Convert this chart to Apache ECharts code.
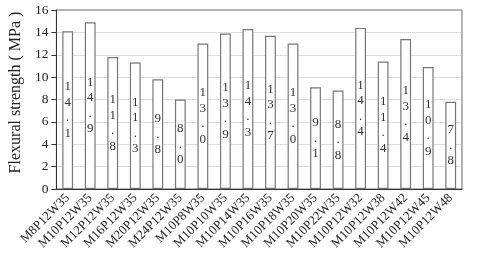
<!DOCTYPE html>
<html><head><meta charset="utf-8">
<script src="https://cdn.jsdelivr.net/npm/echarts@6/dist/echarts.min.js"></script>
<style>html,body{margin:0;padding:0;background:#fff}#c{width:480px;height:259px}</style>
</head><body><div id="c"></div>
<script>
const categories = ["M8P12W35","M10P12W35","M12P12W35","M16P12W35","M20P12W35","M24P12W35","M10P8W35","M10P10W35","M10P14W35","M10P16W35","M10P18W35","M10P20W35","M10P22W35","M10P12W32","M10P12W38","M10P12W42","M10P12W45","M10P12W48"];
const strength = [14.1,14.9,11.8,11.3,9.8,8.0,13.0,13.9,14.3,13.7,13.0,9.1,8.8,14.4,11.4,13.4,10.9,7.8];
const yTicks = [0,2,4,6,8,10,12,14,16];
const serif = "'Liberation Serif','Times New Roman',serif";
const chart = echarts.init(document.getElementById('c'));
chart.setOption({
  animation:false,
  grid:{left:52,right:18,top:10,bottom:70,show:true,borderColor:'#666',borderWidth:1},
  xAxis:{type:'category',data:categories,
    axisLine:{lineStyle:{color:'#333'}},
    axisTick:{alignWithLabel:true,length:5,lineStyle:{color:'#333'}},
    axisLabel:{rotate:45,interval:0,fontFamily:serif,fontSize:13,color:'#222',margin:7}},
  yAxis:{type:'value',min:0,max:16,interval:2,
    name:'Flexural strength ( MPa )',nameLocation:'middle',nameGap:26,
    nameTextStyle:{fontFamily:serif,fontSize:16,color:'#222',padding:[0,0,0,14]},
    axisLine:{show:true,lineStyle:{color:'#333'}},
    axisTick:{show:true,length:5,lineStyle:{color:'#333'}},
    axisLabel:{fontFamily:serif,fontSize:13.5,color:'#222',margin:8,
      formatter:v=>yTicks.includes(v)?String(v):''},
    splitLine:{lineStyle:{color:'#bbb',type:'dotted'}}},
  series:[{type:'bar',data:strength,barWidth:'48%',
    itemStyle:{color:'#fff',borderColor:'#777',borderWidth:1.2},
    label:{show:true,position:'inside',fontFamily:serif,fontSize:13,color:'#333',lineHeight:15.5,
      formatter:p=>p.value.toFixed(1).split('').join('\n')}}]
});
</script></body></html>
